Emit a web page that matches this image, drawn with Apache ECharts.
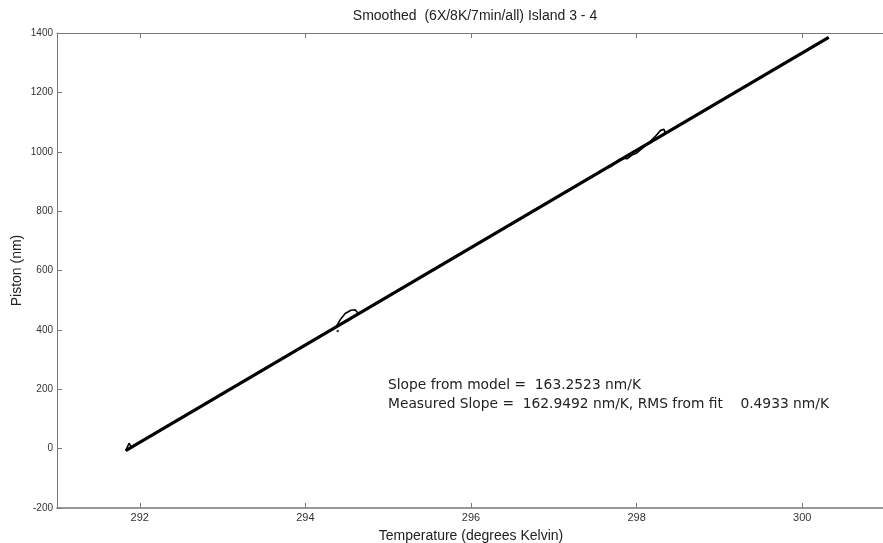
<!DOCTYPE html>
<html>
<head>
<meta charset="utf-8">
<script src="https://cdn.jsdelivr.net/npm/echarts@6/dist/echarts.min.js"></script>
<style>
html,body{margin:0;padding:0;background:#fff;}
#chart{width:883px;height:543px;}
</style>
</head>
<body>
<div id="chart"></div>
<script>
const titleText = 'Smoothed  (6X/8K/7min/all) Island 3 - 4';
const xTicks = [292, 294, 296, 298, 300];
const yTicks = [-200, 0, 200, 400, 600, 800, 1000, 1200, 1400];
const tempK = [291.83, 291.87, 291.9, 292.0, 292.25, 292.5, 292.75, 293.0, 293.25, 293.5, 293.75, 294.0, 294.25, 294.37, 294.42, 294.48, 294.55, 294.6, 294.64, 294.75, 295.0, 295.5, 296.0, 296.5, 297.0, 297.25, 297.5, 297.6, 297.7, 297.78, 297.83, 297.89, 297.95, 298.0, 298.07, 298.15, 298.22, 298.29, 298.33, 298.35, 298.37, 298.41, 298.5, 298.64, 299.0, 299.5, 300.0, 300.32];
const measuredNm = [-7, 18, 5, 22, 62, 104, 144, 186, 228, 267, 309, 349, 391, 410, 434, 455, 466, 468, 455, 472, 513, 596, 677, 759, 841, 882, 923, 940, 952, 972, 978, 977, 990, 995, 1012, 1030, 1050, 1072, 1076, 1062, 1060, 1072, 1087, 1110, 1169, 1251, 1333, 1385];
const fitT = [291.83, 300.32];
const fitNm = [-7, 1385];
const strayT = [294.39];
const strayNm = [396];
const annotation = ['Slope from model =  163.2523 nm/K', 'Measured Slope =  162.9492 nm/K, RMS from fit    0.4933 nm/K'];

const zip = (a, b) => a.map((v, i) => [v, b[i]]);
const chart = echarts.init(document.getElementById('chart'), null, {renderer: 'canvas'});
const axisCol = '#777';
const font = 'Liberation Sans';
chart.setOption({
  animation: false,
  backgroundColor: '#fff',
  title: {
    text: titleText, left: 470, top: 4, textAlign: 'center',
    textStyle: {fontFamily: font, fontSize: 14, fontWeight: 'normal', color: '#222'}
  },
  grid: {left: 57, right: -2, top: 33, bottom: 35, containLabel: false, outerBoundsMode: 'none'},
  xAxis: [{
    type: 'value', min: 291, max: 301, position: 'bottom',
    name: 'Temperature (degrees Kelvin)', nameLocation: 'middle', nameGap: 21,
    nameTextStyle: {fontFamily: font, fontSize: 14, color: '#222'},
    axisLine: {show: true, onZero: false, lineStyle: {color: axisCol, width: 1.5}},
    axisTick: {show: true, inside: true, length: 5, customValues: xTicks, lineStyle: {color: axisCol}},
    axisLabel: {customValues: xTicks, fontFamily: font, fontSize: 11, color: '#333', margin: 4},
    splitLine: {show: false}
  }, {
    type: 'value', min: 291, max: 301, position: 'top',
    axisLine: {show: true, onZero: false, lineStyle: {color: axisCol, width: 1}},
    axisTick: {show: true, inside: true, length: 5, customValues: xTicks, lineStyle: {color: axisCol}},
    axisLabel: {show: false},
    splitLine: {show: false}
  }],
  yAxis: [{
    type: 'value', min: -200, max: 1400, interval: 200,
    name: 'Piston (nm)', nameLocation: 'middle', nameGap: 33, nameRotate: 90, nameMoveOverlap: false,
    nameTextStyle: {fontFamily: font, fontSize: 14, color: '#222'},
    axisLine: {show: true, onZero: false, lineStyle: {color: axisCol, width: 1}},
    axisTick: {show: true, inside: true, length: 5, lineStyle: {color: axisCol}},
    axisLabel: {fontFamily: font, fontSize: 10, color: '#333', margin: 4, formatter: v => String(v)},
    splitLine: {show: false}
  }],
  series: [{
    type: 'line', name: 'fit', data: zip(fitT, fitNm), showSymbol: false,
    lineStyle: {color: '#000', width: 3.2}, z: 2
  }, {
    type: 'line', name: 'measured', data: zip(tempK, measuredNm), showSymbol: false,
    lineStyle: {color: '#000', width: 1.6}, z: 3
  }, {
    type: 'scatter', name: 'stray', data: zip(strayT, strayNm), symbolSize: 2.5,
    itemStyle: {color: '#000'}
  }],
  graphic: [{
    type: 'text', left: 388, top: 376,
    style: {text: annotation.join('\n'), fontFamily: 'DejaVu Sans', fontSize: 13.8, lineHeight: 19, fill: '#222'}
  }]
});
</script>
</body>
</html>
